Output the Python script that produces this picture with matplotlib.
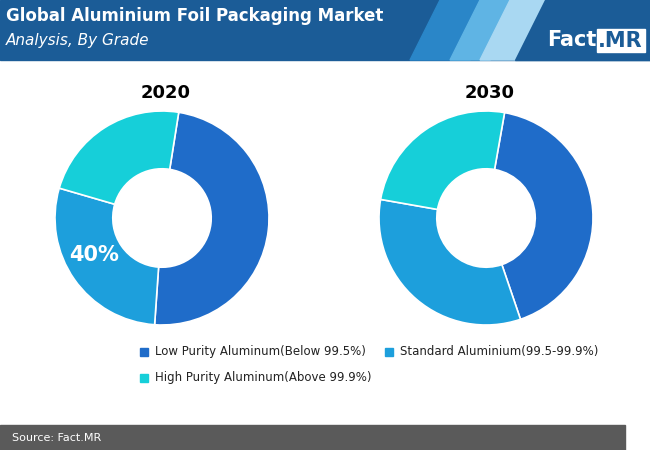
import matplotlib
matplotlib.use("Agg")
import matplotlib.pyplot as plt
from matplotlib.patches import Rectangle, Polygon

years = ["2020", "2030"]
grades = ["Low Purity Aluminum(Below 99.5%)", "Standard Aluminium(99.5-99.9%)",
          "High Purity Aluminum(Above 99.9%)"]
share_2020 = [48.6, 28.4, 23]
share_2030 = [42, 33, 25]
start_deg = [9, 10]
colors = ["#1f6cc9", "#1d9fdc", "#16cfd9"]

fig = plt.figure(figsize=(6.5, 4.5), dpi=100)
bg = fig.add_axes([0, 0, 1, 1])
bg.set_xlim(0, 650); bg.set_ylim(450, 0); bg.axis("off")

# header band with stripes
bg.add_patch(Rectangle((0, 0), 650, 60, color="#1b5c97"))
bg.add_patch(Polygon([(440, 0), (500, 0), (470, 60), (410, 60)], color="#2a86c8"))
bg.add_patch(Polygon([(480, 0), (520, 0), (490, 60), (450, 60)], color="#5fb4e4"))
bg.add_patch(Polygon([(510, 0), (545, 0), (515, 60), (480, 60)], color="#a9d8f2"))
bg.add_patch(Polygon([(545, 0), (650, 0), (650, 60), (515, 60)], color="#1b5c97"))
bg.text(6, 16, "Global Aluminium Foil Packaging Market", color="white",
        fontsize=12, fontweight="bold", va="center")
bg.text(6, 41, "Analysis, By Grade", color="white", fontsize=11,
        style="italic", va="center")
bg.text(547, 40, "Fact", color="white", fontsize=15, fontweight="bold", va="center")
bg.add_patch(Rectangle((597, 29), 48, 23, color="white"))
bg.text(598, 41, ".MR", color="#1b5c97", fontsize=15, fontweight="bold", va="center")

# footer
bg.add_patch(Rectangle((0, 425), 625, 25, color="#5a5a5a"))
bg.text(12, 438, "Source: Fact.MR", color="white", fontsize=8, va="center")

centers = [(162, 218), (486, 218)]
r = 107
for i, (yr, vals) in enumerate(zip(years, [share_2020, share_2030])):
    cx, cy = centers[i]
    ax = fig.add_axes([(cx - r) / 650, (450 - cy - r) / 450, 2 * r / 650, 2 * r / 450])
    ax.pie(vals, colors=colors, startangle=90 - start_deg[i], counterclock=False, radius=1,
           wedgeprops=dict(width=0.54, edgecolor="white", linewidth=1.2))
    ax.set_xlim(-1, 1); ax.set_ylim(-1, 1)
    ax.set_aspect("equal")
    bg.text(cx + 4, 93, yr, fontsize=13, fontweight="bold", ha="center", va="center")

# value label on top of the 2020 ring
fig.text(94 / 650, 1 - 255 / 450, "40%", color="white", fontsize=15,
         fontweight="bold", ha="center", va="center")

# legend
leg = [(140, 352, 0), (385, 352, 1), (140, 378, 2)]
for x, y, k in leg:
    bg.add_patch(Rectangle((x, y - 4), 8, 8, color=colors[k]))
    bg.text(x + 15, y, grades[k], fontsize=8.5, va="center", color="#222222")

fig.savefig("out.png", dpi=100)
